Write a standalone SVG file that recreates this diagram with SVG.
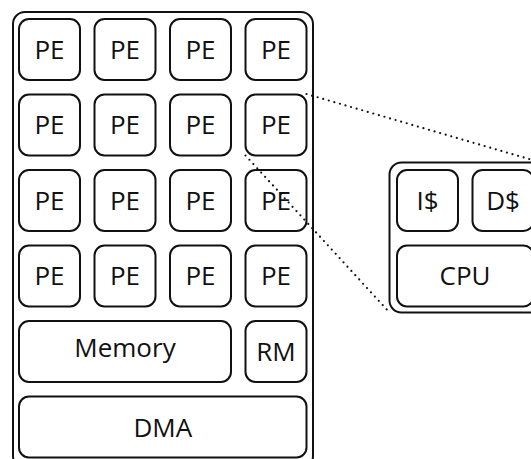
<svg xmlns="http://www.w3.org/2000/svg" width="531" height="459" viewBox="0 0 531 459">
<style>
.box{fill:#fff;stroke:#111;stroke-width:2}
.t{font-family:"Open Sans","Noto Sans",sans-serif;font-size:26px;fill:#111;text-anchor:middle}
.dot{fill:none;stroke:#111;stroke-width:2.2;stroke-linecap:round;stroke-dasharray:0 5.8}
</style>
<rect width="531" height="459" fill="#fff"/>
<g id="chip">
<rect class="box" x="13" y="12" width="300" height="456" rx="12"/>
</g>
<g id="pe-r1c1"><rect class="box" x="19" y="19" width="61" height="61" rx="10"/><text class="t" x="49.5" y="58.5">PE</text></g>
<g id="pe-r1c2"><rect class="box" x="94.5" y="19" width="61" height="61" rx="10"/><text class="t" x="125" y="58.5">PE</text></g>
<g id="pe-r1c3"><rect class="box" x="170" y="19" width="61" height="61" rx="10"/><text class="t" x="200.5" y="58.5">PE</text></g>
<g id="pe-r1c4"><rect class="box" x="245.5" y="19" width="61" height="61" rx="10"/><text class="t" x="276" y="58.5">PE</text></g>
<g id="pe-r2c1"><rect class="box" x="19" y="94.5" width="61" height="61" rx="10"/><text class="t" x="49.5" y="134">PE</text></g>
<g id="pe-r2c2"><rect class="box" x="94.5" y="94.5" width="61" height="61" rx="10"/><text class="t" x="125" y="134">PE</text></g>
<g id="pe-r2c3"><rect class="box" x="170" y="94.5" width="61" height="61" rx="10"/><text class="t" x="200.5" y="134">PE</text></g>
<g id="pe-r2c4"><rect class="box" x="245.5" y="94.5" width="61" height="61" rx="10"/><text class="t" x="276" y="134">PE</text></g>
<g id="pe-r3c1"><rect class="box" x="19" y="170" width="61" height="61" rx="10"/><text class="t" x="49.5" y="209.5">PE</text></g>
<g id="pe-r3c2"><rect class="box" x="94.5" y="170" width="61" height="61" rx="10"/><text class="t" x="125" y="209.5">PE</text></g>
<g id="pe-r3c3"><rect class="box" x="170" y="170" width="61" height="61" rx="10"/><text class="t" x="200.5" y="209.5">PE</text></g>
<g id="pe-r3c4"><rect class="box" x="245.5" y="170" width="61" height="61" rx="10"/><text class="t" x="276" y="209.5">PE</text></g>
<g id="pe-r4c1"><rect class="box" x="19" y="245.5" width="61" height="61" rx="10"/><text class="t" x="49.5" y="285">PE</text></g>
<g id="pe-r4c2"><rect class="box" x="94.5" y="245.5" width="61" height="61" rx="10"/><text class="t" x="125" y="285">PE</text></g>
<g id="pe-r4c3"><rect class="box" x="170" y="245.5" width="61" height="61" rx="10"/><text class="t" x="200.5" y="285">PE</text></g>
<g id="pe-r4c4"><rect class="box" x="245.5" y="245.5" width="61" height="61" rx="10"/><text class="t" x="276" y="285">PE</text></g>
<g id="memory"><rect class="box" x="19" y="321" width="212" height="61" rx="10"/><text class="t" x="125" y="356.5">Memory</text></g>
<g id="rm"><rect class="box" x="245.5" y="321" width="61" height="61" rx="10"/><text class="t" x="276" y="361">RM</text></g>
<g id="dma"><rect class="box" x="19" y="396.5" width="287.5" height="61" rx="10"/><text class="t" x="162.75" y="436.5">DMA</text></g>
<g id="core">
<rect class="box" x="389.5" y="162.5" width="152" height="150" rx="12"/>
</g>
<g id="icache"><rect class="box" x="397" y="170" width="61" height="61" rx="10"/><text class="t" x="427.5" y="210">I$</text></g>
<g id="dcache"><rect class="box" x="472.5" y="170" width="61" height="61" rx="10"/><text class="t" x="503" y="210">D$</text></g>
<g id="cpu"><rect class="box" x="397" y="245.5" width="136.5" height="61" rx="10"/><text class="t" x="465" y="285">CPU</text></g>
<g id="connectors">
<line class="dot" x1="306.5" y1="94" x2="541" y2="162.5"/>
<line class="dot" x1="245.5" y1="155.5" x2="389.5" y2="312.5"/>
</g>
</svg>
